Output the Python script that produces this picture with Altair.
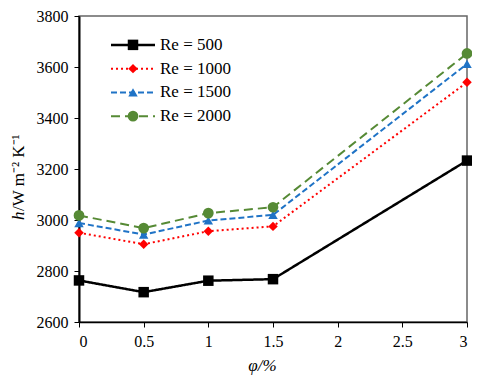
import altair as alt
import pandas as pd

phi = [0, 0.5, 1, 1.5, 3]
series = ["Re = 500", "Re = 1000", "Re = 1500", "Re = 2000"]
h500 = [2763, 2717, 2762, 2768, 3233]
h1000 = [2950, 2905, 2956, 2975, 3540]
h1500 = [2988, 2943, 2998, 3020, 3612]
h2000 = [3018, 2968, 3027, 3050, 3653]
values = [h500, h1000, h1500, h2000]
x_ticks = [0, 0.5, 1, 1.5, 2, 2.5, 3]
y_ticks = [2600, 2800, 3000, 3200, 3400, 3600, 3800]

colors = ["#000000", "#ff0000", "#1f73c6", "#568a35"]
shapes = ["square", "diamond", "triangle-up", "circle"]
dashes = [[1, 0], [2, 3], [6, 3], [9, 5]]
widths = [2.5, 2, 2, 2]
sizes = [110, 90, 90, 115]

FONT = "Liberation Serif"

xs = alt.Scale(domain=[0, 3], nice=False)
ys = alt.Scale(domain=[2600, 3800], nice=False)

x_axis = alt.Axis(values=x_ticks, format="~g", title="φ/%", grid=False,
                  labelFont=FONT, labelFontSize=16, labelColor="black",
                  titleFont=FONT, titleFontSize=17, titleFontStyle="italic",
                  titleFontWeight="normal", titleColor="black", titlePadding=8,
                  titleX=183,
                  domainColor="black", domainWidth=1.5, tickColor="black",
                  tickSize=5, labelPadding=6)
y_axis = alt.Axis(values=y_ticks, format="d", title=None, grid=False,
                  labelFont=FONT, labelFontSize=16, labelColor="black",
                  domainColor="black", domainWidth=2, tickColor="black",
                  tickSize=5, labelPadding=6)

main_layers = []
for i, s in enumerate(series):
    df = pd.DataFrame({"phi": phi, "h": values[i], "series": s})
    base = alt.Chart(df).encode(
        x=alt.X("phi:Q", scale=xs, axis=x_axis),
        y=alt.Y("h:Q", scale=ys, axis=y_axis),
    )
    main_layers.append(base.mark_line(color=colors[i], strokeWidth=widths[i],
                                      strokeDash=dashes[i]))
    main_layers.append(base.mark_point(color=colors[i], filled=True, opacity=1,
                                       shape=shapes[i], size=sizes[i]))

# y title with italic h
one = pd.DataFrame({"a": [0]})
main_layers.append(alt.Chart(one).mark_text(text="h", angle=270, align="left",
                                            baseline="middle", font=FONT, fontSize=17,
                                            fontStyle="italic", color="black").encode(
    x=alt.value(-60), y=alt.value(204)))
main_layers.append(alt.Chart(one).mark_text(text="/W m⁻² K⁻¹", angle=270, align="left",
                                            baseline="middle", font=FONT, fontSize=17,
                                            color="black").encode(
    x=alt.value(-60), y=alt.value(195)))
main = alt.layer(*main_layers)

# legend
leg_layers = []
leg_y = alt.Y("series:N", scale=alt.Scale(domain=series, range=[17, 112]), axis=None)
for i, s in enumerate(series):
    d = pd.DataFrame({"series": [s]})
    b = alt.Chart(d).encode(y=leg_y)
    leg_layers.append(b.mark_rule(color=colors[i], strokeWidth=widths[i],
                                  strokeDash=dashes[i]).encode(
        x=alt.value(32), x2=alt.value(76)))
    leg_layers.append(b.mark_point(color=colors[i], filled=True, opacity=1,
                                   shape=shapes[i], size=sizes[i]).encode(
        x=alt.value(54)))
    leg_layers.append(b.mark_text(align="left", baseline="middle", font=FONT,
                                  fontSize=17, color="black").encode(
        x=alt.value(81), text="series:N"))
legend = alt.layer(*leg_layers)

chart = alt.layer(main, legend).resolve_scale(y="independent").properties(
    width=388, height=306,
    background="white",
    autosize=alt.AutoSizeParams(type="none"),
    padding={"left": 71, "top": 8, "right": 5, "bottom": 60},
).configure_view(stroke="#666666", strokeWidth=1.5)

chart.save("out.html", embed_options={"renderer": "svg", "actions": False})
